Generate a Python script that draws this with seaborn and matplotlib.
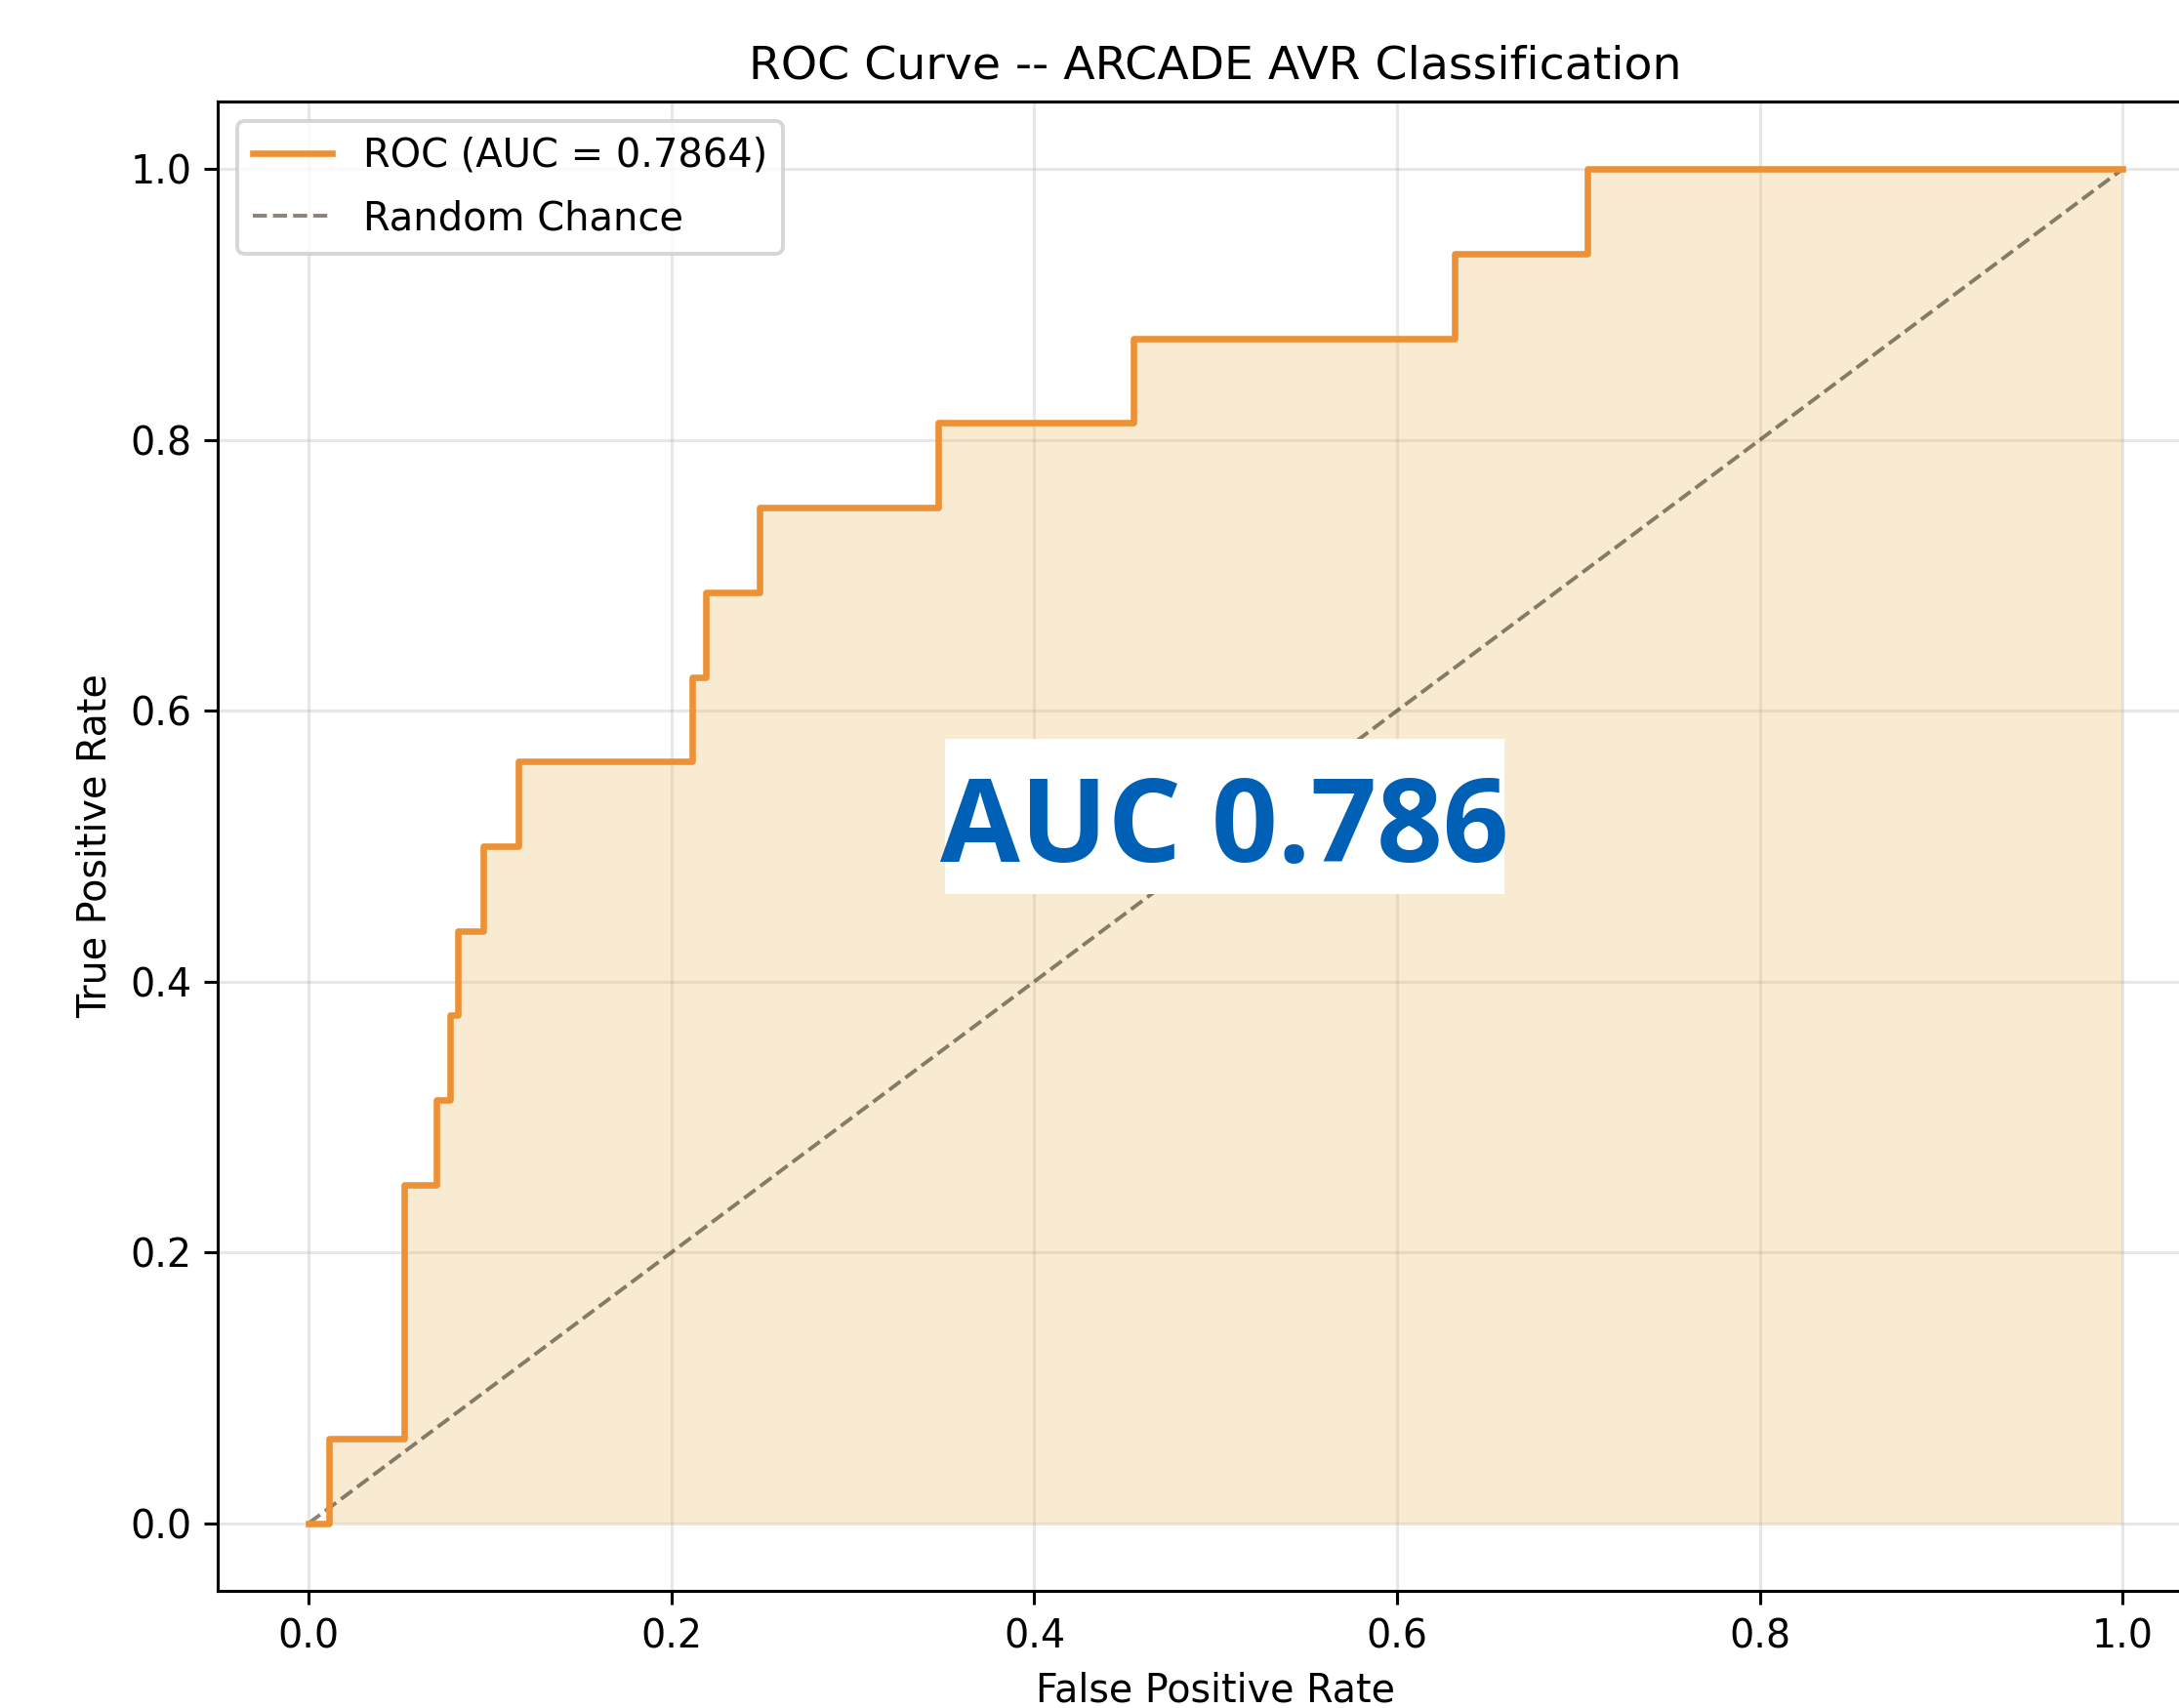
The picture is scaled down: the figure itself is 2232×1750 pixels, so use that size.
import matplotlib
matplotlib.use("Agg")
import matplotlib.pyplot as plt
from matplotlib.patches import Rectangle
import seaborn as sns
import pandas as pd
import numpy as np

# ROC curve points
fpr = [0.0, 0.0113, 0.0113, 0.0525, 0.0525, 0.0705, 0.0705, 0.078, 0.078, 0.0821, 0.0821,
       0.0962, 0.0962, 0.1157, 0.1157, 0.2116, 0.2116, 0.2188, 0.2188, 0.2483, 0.2483,
       0.347, 0.347, 0.4545, 0.4545, 0.6317, 0.6317, 0.7052, 0.7052, 1.0]
tpr = [0.0, 0.0, 0.0625, 0.0625, 0.25, 0.25, 0.3125, 0.3125, 0.375, 0.375, 0.4375,
       0.4375, 0.5, 0.5, 0.5625, 0.5625, 0.625, 0.625, 0.6875, 0.6875, 0.75,
       0.75, 0.8125, 0.8125, 0.875, 0.875, 0.9375, 0.9375, 1.0, 1.0]
chance_x = [0.0, 1.0]
chance_y = [0.0, 1.0]
auc_value = 0.7864
ticks = [0.0, 0.2, 0.4, 0.6, 0.8, 1.0]
tick_labels = ["0.0", "0.2", "0.4", "0.6", "0.8", "1.0"]

roc_df = pd.DataFrame({"fpr": fpr, "tpr": tpr})
chance_df = pd.DataFrame({"x": chance_x, "y": chance_y})

plt.rcParams["font.family"] = ["DejaVu Sans"]

fig = plt.figure(figsize=(2232 / 280, 1750 / 280), dpi=280)
ax = fig.add_axes([0.1001, 0.0686, 0.9156, 0.872])

line_color = "#EC9136"
ax.fill_between(roc_df["fpr"], roc_df["tpr"], 0, color="#EBB34B", alpha=0.25, linewidth=0, zorder=1)
sns.lineplot(data=chance_df, x="x", y="y", ax=ax, color="#3a3020", alpha=0.6, lw=1.0,
             linestyle="--", label="Random Chance", zorder=2)
sns.lineplot(data=roc_df, x="fpr", y="tpr", ax=ax, sort=False, estimator=None,
             color=line_color, lw=1.7, label=f"ROC (AUC = {auc_value:.4f})", zorder=3)

ax.set_xlim(-0.05, 1.05)
ax.set_ylim(-0.05, 1.05)
ax.set_xticks(ticks)
ax.set_xticklabels(tick_labels, fontsize=10.2)
ax.set_yticks(ticks)
ax.set_yticklabels(tick_labels, fontsize=10.2)
ax.spines["right"].set_visible(False)
ax.grid(True, alpha=0.3)
ax.set_axisbelow(True)
ax.set_xlabel("False Positive Rate", fontsize=10.2)
ax.set_ylabel("True Positive Rate", fontsize=10.2)
ax.set_title("ROC Curve -- ARCADE AVR Classification", fontsize=12.2)

handles, labels = ax.get_legend_handles_labels()
order = [labels.index(f"ROC (AUC = {auc_value:.4f})"), labels.index("Random Chance")]
ax.legend([handles[i] for i in order], [labels[i] for i in order], loc="upper left",
          fontsize=10.3, labelspacing=0.6)

# white annotation box with the AUC label
ax.add_patch(Rectangle((0.3507, 0.4646), 0.3086, 0.1149, facecolor="white",
                       edgecolor="none", zorder=4))
ax.text(0.5048, 0.511, "AUC 0.786", transform=ax.transData, ha="center", va="center",
        fontsize=30.5, fontweight="bold", family=["Open Sans", "DejaVu Sans"], color="#0060B6",
        zorder=5)

fig.savefig("out.png", dpi=280)

img = plt.imread("out.png")
edge = img[200:1500, -12:, :3].mean(axis=(0, 2))
if edge.min() < 0.9:
    raise SystemExit(f"dark right edge: {np.round(edge, 3).tolist()} shape {img.shape}")
